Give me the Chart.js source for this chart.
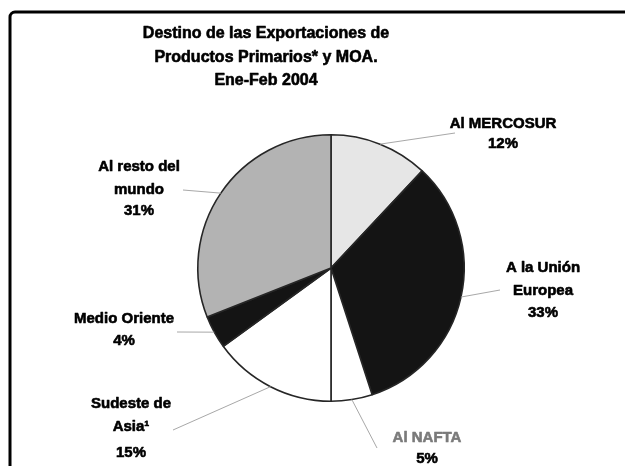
<!DOCTYPE html>
<html>
<head>
<meta charset="utf-8">
<script src="https://cdn.jsdelivr.net/npm/chart.js@4.4.0/dist/chart.umd.min.js"></script>
<style>
  html, body { margin: 0; padding: 0; background: #ffffff; }
  #wrap { width: 625px; height: 466px; position: relative; }
</style>
</head>
<body>
<div id="wrap"><canvas id="c" width="625" height="466"></canvas></div>
<script>
// ---- Data ----
const titleLines = ['Destino de las Exportaciones de', 'Productos Primarios* y MOA.', 'Ene-Feb 2004'];
const categories = ['Al MERCOSUR', 'A la Unión Europea', 'Al NAFTA', 'Sudeste de Asia', 'Medio Oriente', 'Al resto del mundo'];
const shares = [12, 33, 5, 15, 4, 31];
const labelLines = [
  ['Al MERCOSUR'],
  ['A la Unión', 'Europea'],
  ['Al NAFTA'],
  ['Sudeste de', 'Asia\u00B9'],
  ['Medio Oriente'],
  ['Al resto del', 'mundo']
];
const sliceColors = ['#e6e6e6', '#141414', '#ffffff', '#ffffff', '#141414', '#b3b3b3'];

// ---- Label layout (positions/styles only) ----
const labelLayout = [
  { x: 503, ys: [124, 144], end: [455, 133], nameColor: '#000' },
  { x: 543, ys: [268, 291, 313], end: [500, 290], nameColor: '#000' },
  { x: 427, ys: [438, 459], end: [377, 448], nameColor: '#7a7a7a' },
  { x: 131, ys: [404, 427, 453], end: [173, 430], nameColor: '#000' },
  { x: 124, ys: [319, 341], end: [177, 332], nameColor: '#000' },
  { x: 139, ys: [167, 190, 211], end: [183, 190], nameColor: '#000' }
];

function heavyText(ctx, t, x, y, color) {
  ctx.fillStyle = color;
  ctx.strokeStyle = color;
  ctx.lineWidth = 0.6;
  ctx.lineJoin = 'round';
  ctx.strokeText(t, x, y);
  ctx.fillText(t, x, y);
}

const decorPlugin = {
  id: 'decor',
  beforeDraw(chart) {
    const ctx = chart.ctx;
    ctx.save();
    ctx.fillStyle = '#ffffff';
    ctx.fillRect(0, 0, chart.width, chart.height);
    // frame (left + top with rounded corner)
    ctx.strokeStyle = '#000';
    ctx.lineWidth = 3;
    ctx.beginPath();
    ctx.moveTo(10, 470);
    ctx.lineTo(10, 17);
    ctx.arcTo(10, 12, 15, 12, 5);
    ctx.lineTo(630, 12);
    ctx.stroke();
    // title
    ctx.font = 'bold 16px "Liberation Sans", Arial, sans-serif';
    ctx.textAlign = 'center';
    ctx.textBaseline = 'middle';
    const ty = [34, 58, 81];
    titleLines.forEach((t, i) => heavyText(ctx, t, 266, ty[i], '#000'));
    ctx.restore();
  },
  afterDatasetsDraw(chart) {
    const ctx = chart.ctx;
    const meta = chart.getDatasetMeta(0);
    const total = shares.reduce((a, b) => a + b, 0);
    ctx.save();
    meta.data.forEach((arc, i) => {
      const p = arc.getProps(['x', 'y', 'startAngle', 'endAngle', 'outerRadius'], true);
      const mid = (p.startAngle + p.endAngle) / 2;
      const sx = p.x + Math.cos(mid) * p.outerRadius;
      const sy = p.y + Math.sin(mid) * p.outerRadius;
      const L = labelLayout[i];
      ctx.strokeStyle = '#a8a8a8';
      ctx.lineWidth = 1;
      ctx.beginPath();
      ctx.moveTo(sx, sy);
      ctx.lineTo(L.end[0], L.end[1]);
      ctx.stroke();
      ctx.font = 'bold 15px "Liberation Sans", Arial, sans-serif';
      ctx.textAlign = 'center';
      ctx.textBaseline = 'middle';
      const lines = labelLines[i].concat([Math.round(shares[i] / total * 100) + '%']);
      lines.forEach((t, k) => {
        heavyText(ctx, t, L.x, L.ys[k], k < labelLines[i].length ? L.nameColor : '#000');
      });
    });
    ctx.restore();
  }
};

new Chart(document.getElementById('c'), {
  type: 'pie',
  data: {
    labels: categories,
    datasets: [{
      data: shares,
      backgroundColor: sliceColors,
      borderColor: '#262626',
      borderWidth: 1.6,
      hoverOffset: 0
    }]
  },
  options: {
    responsive: false,
    animation: false,
    events: [],
    layout: { padding: { top: 134, bottom: 64, left: 197, right: 160 } },
    plugins: {
      legend: { display: false },
      title: { display: false },
      tooltip: { enabled: false }
    }
  },
  plugins: [decorPlugin]
});
</script>
</body>
</html>
